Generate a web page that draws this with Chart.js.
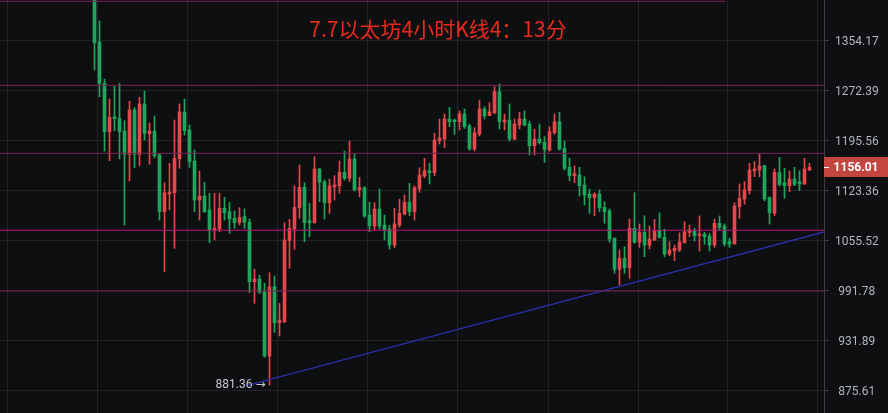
<!DOCTYPE html>
<html>
<head>
<meta charset="utf-8">
<title>ETH 4H</title>
<script src="https://cdn.jsdelivr.net/npm/chart.js@4.4.1/dist/chart.umd.min.js"></script>
<style>
  html, body { margin: 0; padding: 0; background: #0e0f11; }
  #wrap { width: 888px; height: 413px; position: relative; }
</style>
</head>
<body>
<div id="wrap"><canvas id="ethChart"></canvas></div>
<script>
// ETH 4h candles, oldest first (red = up, green = down)
const opens = [
  1440, 1351.3, 1283.5, 1208.4, 1231.2, 1228.7, 1209.4, 1174.9, 1241.6, 1174.9,
  1250.9, 1205.4, 1209.4, 1173.9, 1093.8, 1118.2, 1120.0, 1168.5, 1238.5, 1211.0,
  1165.1, 1109.8, 1115.4, 1096.1, 1069.2, 1070.1, 1098.5, 1093.8, 1084.9, 1079.0,
  1087.1, 1079.5, 1002.4, 1005.8, 990.0, 913.9, 996.2, 952.5, 953.8, 1055.0,
  1070.5, 1099.3, 1127.6, 1081.6, 1079.0, 1153.6, 1135.4, 1106.1, 1128.0, 1129.4,
  1148.9, 1140.3, 1168.0, 1123.8, 1127.0, 1089.3, 1074.5, 1097.5, 1075.8, 1070.5,
  1049.3, 1075.8, 1090.7, 1106.7, 1093.8, 1125.2, 1143.6, 1151.1, 1148.3, 1195.0,
  1197.5, 1227.7, 1226.1, 1223.6, 1235.4, 1217.1, 1182.6, 1204.9, 1243.1, 1232.8,
  1237.4, 1270.2, 1223.1, 1226.1, 1197.5, 1218.6, 1227.7, 1220.0, 1187.5, 1197.5,
  1192.6, 1181.1, 1206.9, 1223.6, 1183.6, 1156.0, 1144.0, 1145.0, 1130.8, 1118.2,
  1113.0, 1118.2, 1099.8, 1094.8, 1058.2, 1018.0, 1032.2, 1020.1, 1071.4, 1052.9,
  1066.0, 1049.3, 1055.9, 1068.2, 1059.5, 1037.7, 1041.9, 1042.9, 1052.4, 1065.8,
  1067.8, 1061.6, 1063.8, 1061.2, 1049.3, 1078.1, 1074.5, 1053.7, 1050.7, 1100.6,
  1111.2, 1122.8, 1150.7, 1152.1, 1158.3, 1113.0, 1091.6, 1148.3, 1134.0, 1129.8,
  1139.3, 1135.4, 1132.2, 1152.1
];
const highs = [
  1452, 1387.1, 1290.3, 1258.6, 1279.2, 1283.5, 1225.1, 1255.1, 1245.1, 1261.3,
  1271.3, 1221.6, 1232.3, 1175.4, 1134.0, 1161.7, 1226.1, 1250.9, 1258.6, 1218.6,
  1181.1, 1150.7, 1134.6, 1119.2, 1119.2, 1119.2, 1113.6, 1106.7, 1094.8, 1099.3,
  1097.5, 1083.9, 1018.0, 1010.9, 1000.4, 1013.7, 1009.6, 975.8, 1079.0, 1083.5,
  1129.8, 1159.3, 1134.0, 1105.3, 1171.3, 1154.6, 1137.8, 1139.3, 1144.0, 1165.1,
  1179.6, 1194.5, 1175.4, 1141.7, 1128.4, 1106.7, 1106.1, 1125.2, 1089.3, 1075.4,
  1098.5, 1110.8, 1116.8, 1133.2, 1129.4, 1155.4, 1169.0, 1161.7, 1206.0, 1227.7,
  1235.4, 1245.7, 1227.7, 1240.0, 1243.1, 1220.0, 1214.4, 1257.0, 1246.7, 1252.9,
  1278.1, 1282.4, 1235.0, 1250.9, 1227.7, 1238.0, 1240.0, 1224.6, 1212.0, 1220.0,
  1200.9, 1215.9, 1235.4, 1238.0, 1194.5, 1169.0, 1157.9, 1156.0, 1142.5, 1124.8,
  1120.0, 1123.8, 1107.5, 1097.5, 1058.9, 1042.9, 1047.1, 1083.9, 1120.0, 1077.2,
  1088.3, 1074.5, 1083.5, 1092.4, 1070.5, 1053.7, 1049.3, 1065.5, 1080.3, 1075.8,
  1071.4, 1088.0, 1066.0, 1064.7, 1083.9, 1088.0, 1077.2, 1058.2, 1106.1, 1132.2,
  1135.4, 1161.7, 1164.1, 1174.9, 1159.3, 1114.4, 1153.6, 1170.5, 1154.6, 1150.7,
  1156.0, 1151.1, 1169.0, 1161.7
];
const lows = [
  1305, 1262.2, 1179.6, 1165.5, 1209.9, 1168.0, 1075.8, 1136.4, 1155.4, 1158.3,
  1196.0, 1160.3, 1169.9, 1082.5, 1015.1, 1096.1, 1045.0, 1154.6, 1203.5, 1156.0,
  1093.8, 1082.5, 1093.0, 1052.4, 1055.9, 1066.8, 1082.5, 1064.7, 1071.4, 1075.8,
  1071.4, 988.8, 975.8, 988.1, 912.4, 881.36, 941.2, 936.9, 952.5, 1019.4,
  1043.7, 1084.9, 1053.7, 1060.3, 1078.1, 1107.5, 1083.9, 1091.6, 1109.8, 1119.2,
  1137.8, 1135.4, 1122.4, 1114.4, 1086.2, 1066.8, 1069.2, 1070.5, 1055.9, 1044.1,
  1045.8, 1072.7, 1089.3, 1088.3, 1082.5, 1120.6, 1141.1, 1132.2, 1144.0, 1190.0,
  1184.6, 1215.9, 1204.5, 1211.0, 1213.5, 1181.1, 1179.6, 1202.0, 1227.7, 1232.8,
  1235.4, 1212.5, 1211.0, 1194.5, 1196.0, 1212.5, 1217.1, 1173.9, 1173.9, 1190.0,
  1163.2, 1179.6, 1204.5, 1181.1, 1152.1, 1136.8, 1134.0, 1115.4, 1103.0, 1091.6,
  1088.3, 1093.8, 1078.1, 1052.9, 1013.0, 998.3, 1013.0, 1006.7, 1051.6, 1046.3,
  1034.2, 1044.1, 1055.0, 1058.2, 1034.2, 1035.5, 1029.0, 1040.6, 1051.6, 1060.3,
  1054.6, 1041.5, 1050.3, 1041.5, 1046.3, 1069.2, 1048.0, 1046.3, 1050.7, 1084.9,
  1104.0, 1118.2, 1142.5, 1142.5, 1108.8, 1077.2, 1088.3, 1129.4, 1112.2, 1121.4,
  1129.8, 1122.8, 1131.8, 1151.1
];
const closes = [
  1350.1, 1283.5, 1208.4, 1230.2, 1228.1, 1208.4, 1174.9, 1241.6, 1174.9, 1250.9,
  1206.0, 1209.4, 1172.8, 1093.8, 1120.0, 1121.0, 1169.0, 1238.5, 1209.9, 1164.1,
  1109.8, 1115.4, 1093.8, 1069.2, 1071.4, 1098.5, 1092.4, 1083.9, 1079.0, 1086.2,
  1079.5, 1002.4, 1005.8, 989.3, 913.9, 996.2, 952.5, 955.8, 1055.9, 1071.4,
  1099.8, 1127.6, 1079.0, 1079.0, 1153.6, 1134.6, 1106.1, 1129.8, 1130.8, 1148.9,
  1140.3, 1168.0, 1123.8, 1127.0, 1088.0, 1074.5, 1097.5, 1074.5, 1069.2, 1049.3,
  1077.2, 1091.6, 1106.7, 1093.8, 1127.0, 1145.0, 1151.1, 1148.3, 1196.0, 1199.0,
  1227.7, 1223.6, 1223.6, 1235.4, 1215.9, 1182.6, 1206.9, 1243.1, 1232.3, 1238.5,
  1270.2, 1223.6, 1226.1, 1197.5, 1220.0, 1227.7, 1218.6, 1187.5, 1197.5, 1192.0,
  1182.2, 1208.4, 1223.6, 1182.6, 1154.6, 1144.0, 1146.8, 1129.8, 1116.8, 1113.0,
  1118.2, 1099.3, 1093.8, 1057.2, 1018.0, 1032.2, 1020.1, 1071.4, 1052.9, 1066.0,
  1049.3, 1057.2, 1068.2, 1059.5, 1037.7, 1042.9, 1045.0, 1053.3, 1066.8, 1069.2,
  1061.6, 1063.8, 1060.3, 1049.3, 1078.1, 1072.7, 1050.7, 1050.7, 1101.6, 1112.2,
  1123.8, 1152.1, 1153.6, 1157.9, 1111.2, 1092.4, 1148.9, 1131.8, 1129.8, 1139.3,
  1131.8, 1132.2, 1153.6, 1156.01
];

// Price axis labels (log scale) and time grid positions (in bar index units)
const priceTicks = [1354.17, 1272.39, 1195.56, 1123.36, 1055.52, 991.78, 931.89, 875.61];
const timeGrid = [-8.3, 9.7, 27.7, 45.7, 63.7, 81.7, 99.7, 117.7, 135.7];

// Horizontal levels drawn on the chart, and where each one stops
const levelPrices = [1421.6, 1280.3, 1176.3, 1068.8, 990.9];
const levelEnds = [126.1, 145.9, 145.9, 145.9, 145.9];

// Rising trend line from the low
const trendX = [30.04, 145.9];
const trendY = [880.3, 1066.5];

const chartTitle = '7.7以太坊4小时K线4：13分';

const UP = '#e4484a';
const DOWN = '#1fa65c';
const X_MIN = -18.9;
const X_MAX = 145.9;

const bars = opens.map((o, i) => i);
const candleColor = ctx => closes[ctx.dataIndex] >= opens[ctx.dataIndex] ? UP : DOWN;

// Title, low marker and last price tag
const overlay = {
    id: 'overlay',
    afterDatasetsDraw(chart) {
        const { ctx, scales: { x, y } } = chart;
        ctx.save();

        ctx.fillStyle = '#ea2a1e';
        ctx.font = '21px "Noto Sans CJK SC", "Liberation Sans", sans-serif';
        ctx.textAlign = 'center';
        ctx.textBaseline = 'alphabetic';
        ctx.fillText(chartTitle, 438, 37);

        const lowIdx = lows.indexOf(Math.min(...lows));
        ctx.font = '12px Roboto, "DejaVu Sans", sans-serif';
        ctx.fillStyle = '#c5c8cf';
        ctx.textAlign = 'right';
        ctx.textBaseline = 'middle';
        ctx.fillText(lows[lowIdx].toFixed(2) + ' →', x.getPixelForValue(lowIdx) - 4, y.getPixelForValue(lows[lowIdx]));

        const last = closes[closes.length - 1];
        const py = Math.round(y.getPixelForValue(last));
        ctx.fillStyle = '#c4443f';
        ctx.fillRect(y.left, py - 10, chart.width - y.left, 20);
        ctx.fillStyle = '#ffffff';
        ctx.fillRect(y.left, py, 5, 1);
        ctx.font = 'bold 12px Roboto, sans-serif';
        ctx.textAlign = 'center';
        ctx.fillText(last.toFixed(2), 856, py + 1);

        ctx.restore();
    }
};

const levelColors = ['#7c2259', '#7c2259', '#7c2259', '#b0187f', '#7c2259'];

const lineSets = levelPrices.map((p, k) => ({
    type: 'line',
    data: [{ x: X_MIN, y: p }, { x: levelEnds[k], y: p }],
    borderColor: levelColors[k],
    borderWidth: 1,
    pointRadius: 0,
    order: 0
}));

lineSets.push({
    type: 'line',
    data: trendX.map((v, k) => ({ x: v, y: trendY[k] })),
    borderColor: '#2630a6',
    borderWidth: 1.3,
    pointRadius: 0,
    order: 0
});

const config = {
    type: 'bar',
    data: {
        datasets: [
            ...lineSets,
            {
                // wicks
                data: bars.map(i => ({ x: i, y: [lows[i], highs[i]] })),
                backgroundColor: candleColor,
                barThickness: 1,
                grouped: false,
                order: 2
            },
            {
                // bodies
                data: bars.map(i => ({ x: i, y: [opens[i], closes[i]] })),
                backgroundColor: candleColor,
                barThickness: 3,
                minBarLength: 1,
                grouped: false,
                order: 1
            }
        ]
    },
    options: {
        responsive: true,
        maintainAspectRatio: false,
        animation: false,
        layout: { padding: 0 },
        plugins: {
            legend: { display: false },
            tooltip: { enabled: false }
        },
        scales: {
            x: {
                type: 'linear',
                min: X_MIN,
                max: X_MAX,
                offset: false,
                afterBuildTicks: s => { s.ticks = timeGrid.map(v => ({ value: v })); },
                afterFit: s => { s.height = 0; },
                ticks: { display: false },
                grid: { color: '#212226', drawTicks: false },
                border: { display: false }
            },
            y: {
                type: 'logarithmic',
                position: 'right',
                min: 851.2,
                max: 1423.9,
                afterBuildTicks: s => { s.ticks = priceTicks.map(v => ({ value: v })); },
                afterFit: s => { s.width = 64; s.paddingTop = 0; s.paddingBottom = 0; },
                ticks: {
                    color: '#b2b5be',
                    font: { family: 'Roboto', size: 12 },
                    padding: 6,
                    labelOffset: 1.5,
                    crossAlign: 'center',
                    callback: v => Number(v).toFixed(2)
                },
                grid: { color: '#212226', tickColor: '#3c3d42', tickLength: 5 },
                border: { display: true, color: '#3c3d42' }
            }
        }
    },
    plugins: [overlay]
};

new Chart(document.getElementById('ethChart').getContext('2d'), config);
</script>
</body>
</html>
